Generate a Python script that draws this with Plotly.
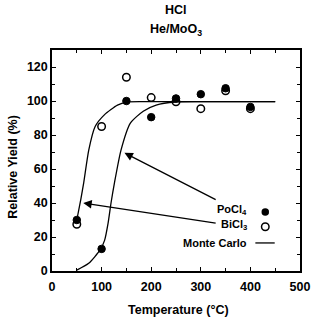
import plotly.graph_objects as go

# Data
temps = [50, 100, 150, 200, 250, 300, 350, 400]
pocl4 = [30, 13, 100, 90.5, 101.5, 104, 107.5, 96.5]
bicl3 = [27.5, 85, 114, 102, 99.5, 95.5, 106, 95.5]

mc1_x = [50, 58, 64, 74, 87, 106, 132, 150, 200, 300, 450]
mc1_y = [30, 42, 52, 71, 85, 92, 97.6, 99.4, 99.6, 99.6, 99.6]
mc2_x = [50, 74, 97, 106, 113, 119, 126, 139, 158, 184, 210, 249, 300, 450]
mc2_y = [0.5, 4.5, 12.4, 18, 28, 40, 52, 71, 87, 94, 97.6, 99.4, 99.6, 99.6]

x_ticks = [0, 100, 200, 300, 400, 500]
y_ticks = [0, 20, 40, 60, 80, 100, 120]

FONT = "Liberation Sans, Arial, sans-serif"
fig = go.Figure()

line_style = dict(color="black", width=1.3, shape="spline", smoothing=0.6)
fig.add_trace(go.Scatter(x=mc1_x, y=mc1_y, mode="lines", line=line_style, showlegend=False))
fig.add_trace(go.Scatter(x=mc2_x, y=mc2_y, mode="lines", line=line_style, showlegend=False))

fig.add_trace(go.Scatter(x=temps, y=pocl4, mode="markers",
                         marker=dict(symbol="circle", size=7.5, color="black",
                                     line=dict(color="black", width=1)),
                         showlegend=False))
fig.add_trace(go.Scatter(x=temps, y=bicl3, mode="markers",
                         marker=dict(symbol="circle-open", size=7.5, color="black",
                                     line=dict(color="black", width=1.5)),
                         showlegend=False))

# Manual legend
fig.add_trace(go.Scatter(x=[430], y=[34.7], mode="markers",
                         marker=dict(symbol="circle", size=7.5, color="black"), showlegend=False))
fig.add_trace(go.Scatter(x=[430], y=[26], mode="markers",
                         marker=dict(symbol="circle-open", size=7.5, color="black",
                                     line=dict(width=1.5)), showlegend=False))
fig.add_trace(go.Scatter(x=[410, 449], y=[16.5, 16.5], mode="lines",
                         line=dict(color="black", width=1.3), showlegend=False))

leg_font = dict(family=FONT, size=11, color="black", weight="bold")
for txt, yv in [("PoCl<sub>4</sub>", 36), ("BiCl<sub>3</sub>", 27), ("Monte Carlo", 16.5)]:
    fig.add_annotation(x=397, y=yv, xref="x", yref="y", text=txt, showarrow=False,
                       xanchor="right", yanchor="middle", font=leg_font)

# Arrows
for (hx, hy, tx, ty) in [(146, 69.5, 333, 41.5), (63, 40, 333, 28)]:
    fig.add_annotation(x=hx, y=hy, ax=tx, ay=ty, xref="x", yref="y", axref="x", ayref="y",
                       text="", showarrow=True, arrowhead=2, arrowsize=1.3,
                       arrowwidth=1.3, arrowcolor="black")

title_font = dict(family=FONT, size=12.5, color="black", weight="bold")
fig.add_annotation(x=0.5, y=1.181, xref="paper", yref="paper", text="HCl",
                   showarrow=False, font=title_font, yanchor="middle")
fig.add_annotation(x=0.5, y=1.09, xref="paper", yref="paper", text="He/MoO<sub>3</sub>",
                   showarrow=False, font=title_font, yanchor="middle")
fig.add_annotation(x=0.51, y=-0.176, xref="paper", yref="paper", text="Temperature (°C)",
                   showarrow=False, font=title_font, yanchor="middle")
fig.add_annotation(x=-0.155, y=0.47, xref="paper", yref="paper", text="Relative Yield (%)",
                   showarrow=False, font=title_font, textangle=-90,
                   xanchor="center", yanchor="middle")

axis_common = dict(showgrid=False, zeroline=False, showline=True, linecolor="black",
                   linewidth=1.5, mirror="allticks", ticks="inside", ticklen=4,
                   tickwidth=1, tickcolor="black",
                   tickfont=dict(family=FONT, size=12.5, color="black", weight="bold"))

fig.update_xaxes(range=[0, 500], tickvals=x_ticks, ticktext=[str(v) for v in x_ticks],
                 ticklabelstandoff=3,
                 minor=dict(dtick=50, tick0=0, ticks="inside", ticklen=3, tickcolor="black"),
                 **axis_common)
fig.update_yaxes(range=[0, 130], tickvals=y_ticks, ticktext=[str(v) for v in y_ticks],
                 minor=dict(dtick=10, tick0=0, ticks="inside", ticklen=3, tickcolor="black"),
                 **axis_common)

fig.update_layout(width=322, height=317, margin=dict(l=52, r=13, t=50, b=46),
                  plot_bgcolor="white", paper_bgcolor="white", showlegend=False)

fig.write_html("out.html")
